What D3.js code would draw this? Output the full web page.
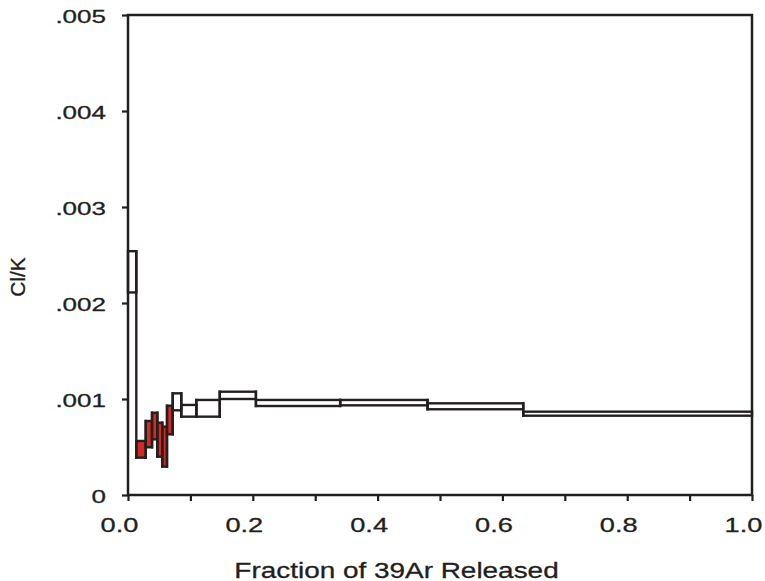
<!DOCTYPE html>
<html>
<head>
<meta charset="utf-8">
<script src="https://cdn.jsdelivr.net/npm/d3@7"></script>
<style>
  html, body { margin: 0; padding: 0; background: #fff; }
  svg { display: block; }
  text { font-family: "Liberation Sans", Arial, sans-serif; fill: #231f20; }
</style>
</head>
<body>
<svg id="chart" width="765" height="581"></svg>
<script>
// Step boundaries (cumulative fraction of 39Ar released)
const fractionEdges = [0, 0.0133, 0.0284, 0.0385, 0.047, 0.055, 0.0625, 0.0716, 0.0854, 0.1095, 0.147, 0.205, 0.340, 0.480, 0.6335, 1.0];
// Cl/K lower and upper bounds of each step
const clkLow  = [0.00211, 0.000389, 0.000497, 0.000580, 0.000399, 0.000295, 0.000632, 0.000882, 0.000816, 0.000816, 0.001000, 0.000927, 0.000934, 0.000893, 0.000826];
const clkHigh = [0.00254, 0.000563, 0.000771, 0.000857, 0.000753, 0.000712, 0.000930, 0.001059, 0.000938, 0.000990, 0.001076, 0.000990, 0.000990, 0.000955, 0.000868];
// Highlighted (red) steps
const highlighted = [false, true, true, true, true, true, true, false, false, false, false, false, false, false, false];
// Tick values
const xTicks = [0, 0.1, 0.2, 0.3, 0.4, 0.5, 0.6, 0.7, 0.8, 0.9, 1.0];
const xTickLabels = ["0.0", "", "0.2", "", "0.4", "", "0.6", "", "0.8", "", "1.0"];
const yTicks = [0, 0.001, 0.002, 0.003, 0.004, 0.005];
const yTickLabels = ["0", ".001", ".002", ".003", ".004", ".005"];

const ink = "#231f20";
const red = "#d42a22";

const svg = d3.select("#chart");
const x = d3.scaleLinear().domain([0, 1]).range([128, 752]);
const y = d3.scaleLinear().domain([0, 0.005]).range([495, 15]);

const steps = clkLow.map((lo, i) => ({
  x0: fractionEdges[i], x1: fractionEdges[i + 1], lo, hi: clkHigh[i], hl: highlighted[i]
}));

// Steps
svg.append("g").selectAll("rect").data(steps).join("rect")
  .attr("x", d => x(d.x0))
  .attr("y", d => y(d.hi))
  .attr("width", d => x(d.x1) - x(d.x0))
  .attr("height", d => y(d.lo) - y(d.hi))
  .attr("fill", d => d.hl ? red : "none")
  .attr("stroke", ink)
  .attr("stroke-width", 2.4);

// Vertical connectors between adjacent steps
const connectors = steps.slice(1).map((d, i) => ({
  xv: d.x0,
  lo: Math.min(d.lo, steps[i].lo),
  hi: Math.max(d.hi, steps[i].hi)
}));
svg.append("g").selectAll("line").data(connectors).join("line")
  .attr("x1", d => x(d.xv)).attr("x2", d => x(d.xv))
  .attr("y1", d => y(d.hi)).attr("y2", d => y(d.lo))
  .attr("stroke", ink).attr("stroke-width", 2.4).attr("stroke-linecap", "square");

// Frame
svg.append("rect")
  .attr("x", x(0)).attr("y", y(0.005))
  .attr("width", x(1) - x(0)).attr("height", y(0) - y(0.005))
  .attr("fill", "none").attr("stroke", ink).attr("stroke-width", 2.5);

// X axis
const xAxis = svg.append("g").attr("transform", `translate(0,${y(0)})`)
  .call(d3.axisBottom(x).tickValues(xTicks).tickSize(6)
    .tickFormat((d, i) => xTickLabels[i]));
xAxis.select(".domain").remove();
xAxis.selectAll(".tick line").attr("stroke", ink).attr("stroke-width", 2.2);
xAxis.selectAll(".tick text")
  .attr("font-size", 20).attr("dy", null).attr("y", 0).attr("x", 0)
  .attr("transform", "translate(-9,36.5) scale(1.36,1)")
  .attr("stroke", ink).attr("stroke-width", 0.3)
  .attr("font-family", "Liberation Sans, Arial, sans-serif").attr("fill", ink);

// Y axis
const yAxis = svg.append("g").attr("transform", `translate(${x(0)},0)`)
  .call(d3.axisLeft(y).tickValues(yTicks).tickSize(6)
    .tickFormat((d, i) => yTickLabels[i]));
yAxis.select(".domain").remove();
yAxis.selectAll(".tick line").attr("stroke", ink).attr("stroke-width", 2.2);
yAxis.selectAll(".tick text")
  .attr("font-size", 19).attr("x", 0).attr("dy", "0.42em")
  .attr("transform", "translate(-22,0) scale(1.37,1)")
  .attr("stroke", ink).attr("stroke-width", 0.3)
  .attr("font-family", "Liberation Sans, Arial, sans-serif").attr("fill", ink);

// Axis titles
svg.append("text")
  .attr("transform", "translate(396.5,578) scale(1.27,1)")
  .attr("text-anchor", "middle").attr("font-size", 22)
  .attr("stroke", ink).attr("stroke-width", 0.3)
  .text("Fraction of 39Ar Released");

svg.append("text")
  .attr("transform", "translate(25,277) rotate(-90) scale(1.05,1)")
  .attr("text-anchor", "middle").attr("font-size", 20)
  .attr("stroke", ink).attr("stroke-width", 0.3)
  .text("Cl/K");
</script>
</body>
</html>
